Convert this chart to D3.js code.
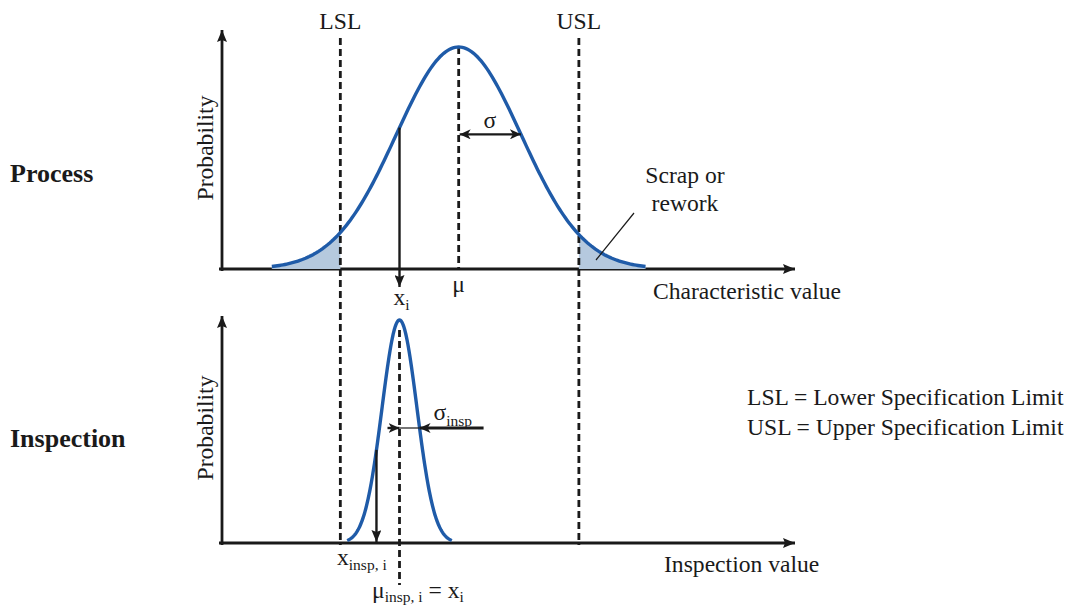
<!DOCTYPE html>
<html>
<head>
<meta charset="utf-8">
<script src="https://cdn.jsdelivr.net/npm/d3@7"></script>
<style>
  body { margin: 0; background: #fff; }
  text { font-family: "Liberation Serif", "Times New Roman", serif; fill: #1a1a1a; }
</style>
</head>
<body>
<svg id="chart"></svg>
<script>
// process and inspection parameters, in characteristic units
const processMean = 50, processSigma = 10;
const specLimits = [{name: "LSL", value: 31}, {name: "USL", value: 69.3}];
const xi = 40.5;          // true value of the inspected part
const inspSigma = 2.8;    // spread of the inspection
const xInsp = 36.8;       // value reported by the inspection
const xDomain = [12, 104];
const rowLabels = ["Process", "Inspection"];
const legendLines = ["LSL = Lower Specification Limit", "USL = Upper Specification Limit"];

const width = 1072, height = 605;
const blue = "#1f5ba8", fillBlue = "#b5c9de", ink = "#1a1a1a";
const fs = 23.6, fsSub = 15.5;

const svg = d3.select("#chart").attr("width", width).attr("height", height);

const x = d3.scaleLinear().domain(xDomain).range([222, 795]);
const yTop = d3.scaleLinear().domain([0, 1]).range([269, 47]);
const yBot = d3.scaleLinear().domain([0, 1]).range([543, 320]);

// bell curve scaled so the peak is 1
const bell = (v, m, s) => Math.exp(-0.5 * Math.pow((v - m) / s, 2));
const sample = (m, s, from, to) => d3.range(from, to + 1e-9, (to - from) / 200).map(v => ({v: v, p: bell(v, m, s)}));

// markers
var defs = svg.append("defs");
defs.append("marker").attr("id", "tri")
    .attr("markerUnits", "userSpaceOnUse")
    .attr("viewBox", "0 0 12 10").attr("refX", 12).attr("refY", 5)
    .attr("markerWidth", 12).attr("markerHeight", 10).attr("orient", "auto-start-reverse")
    .append("path").attr("d", "M0,0 L12,5 L0,10 L2,5 z").attr("fill", ink);
defs.append("marker").attr("id", "barb")
    .attr("markerUnits", "userSpaceOnUse")
    .attr("viewBox", "0 0 11 10").attr("refX", 11).attr("refY", 5)
    .attr("markerWidth", 11).attr("markerHeight", 10).attr("orient", "auto-start-reverse")
    .append("path").attr("d", "M0,0 L11,5 L0,10 L3,5 z").attr("fill", ink);

// ---- axes
const axisX0 = x.range()[0], axisX1 = x.range()[1];
[[yTop, 30], [yBot, 316]].forEach(function (d) {
    var y = d[0];
    svg.append("line").attr("x1", axisX0 - 3).attr("x2", axisX1).attr("y1", y(0)).attr("y2", y(0))
        .attr("stroke", ink).attr("stroke-width", 2.8).attr("marker-end", "url(#tri)");
    svg.append("line").attr("x1", axisX0).attr("x2", axisX0).attr("y1", y(0) + 2).attr("y2", d[1])
        .attr("stroke", ink).attr("stroke-width", 2.8).attr("marker-end", "url(#tri)");
});

// ---- process curve with shaded tails
const lo = processMean - 3 * processSigma, hi = processMean + 3 * processSigma;
const area = d3.area().x(d => x(d.v)).y0(yTop(0)).y1(d => yTop(d.p));
const line = d3.line().x(d => x(d.v)).y(d => yTop(d.p));
svg.append("path").datum(sample(processMean, processSigma, lo, specLimits[0].value))
    .attr("d", area).attr("fill", fillBlue);
svg.append("path").datum(sample(processMean, processSigma, specLimits[1].value, hi))
    .attr("d", area).attr("fill", fillBlue);

// ---- inspection curve
const lineBot = d3.line().x(d => x(d.v)).y(d => yBot(d.p));

// dashed spec limits through both panels
specLimits.forEach(function (s) {
    svg.append("line").attr("x1", x(s.value)).attr("x2", x(s.value)).attr("y1", 38).attr("y2", 545)
        .attr("stroke", ink).attr("stroke-width", 2.8).attr("stroke-dasharray", "7,4");
    svg.append("text").attr("x", x(s.value)).attr("y", 29).attr("text-anchor", "middle")
        .attr("font-size", fs).text(s.name);
});
// dashed means
svg.append("line").attr("x1", x(processMean)).attr("x2", x(processMean)).attr("y1", yTop(1)).attr("y2", yTop(0))
    .attr("stroke", ink).attr("stroke-width", 2.8).attr("stroke-dasharray", "7,4");
svg.append("line").attr("x1", x(xi)).attr("x2", x(xi)).attr("y1", yBot(1) + 10).attr("y2", 585)
    .attr("stroke", ink).attr("stroke-width", 2.8).attr("stroke-dasharray", "7,4");

svg.append("path").datum(sample(processMean, processSigma, lo, hi))
    .attr("d", line).attr("fill", "none").attr("stroke", blue).attr("stroke-width", 3.4);
svg.append("path").datum(sample(xi, inspSigma, xi - 3 * inspSigma, xi + 3 * inspSigma))
    .attr("d", lineBot).attr("fill", "none").attr("stroke", blue).attr("stroke-width", 3.4);

// x_i arrow from the process curve down past the axis
svg.append("line").attr("x1", x(xi)).attr("x2", x(xi))
    .attr("y1", yTop(bell(xi, processMean, processSigma))).attr("y2", yTop(0) + 18)
    .attr("stroke", ink).attr("stroke-width", 2.4).attr("marker-end", "url(#tri)");
// x_insp arrow down to the lower axis
svg.append("line").attr("x1", x(xInsp)).attr("x2", x(xInsp))
    .attr("y1", yBot(bell(xInsp, xi, inspSigma))).attr("y2", yBot(0) - 1)
    .attr("stroke", ink).attr("stroke-width", 2.4).attr("marker-end", "url(#tri)");

// sigma of the process
const ySig = yTop(bell(processMean + processSigma, processMean, processSigma));
svg.append("line").attr("x1", x(processMean) + 1).attr("x2", x(processMean + processSigma)).attr("y1", ySig).attr("y2", ySig)
    .attr("stroke", ink).attr("stroke-width", 2.4).attr("marker-start", "url(#barb)").attr("marker-end", "url(#barb)");
svg.append("text").attr("x", (x(processMean) + x(processMean + processSigma)) / 2).attr("y", ySig - 6)
    .attr("text-anchor", "middle").attr("font-size", fs).text("σ");

// sigma of the inspection (dimension arrows pointing inward)
const yIs = 428;
const pIs = yBot.invert(yIs);
const vIs = xi + inspSigma * Math.sqrt(-2 * Math.log(pIs));
svg.append("line").attr("x1", x(xi) - 12).attr("x2", x(xi)).attr("y1", yIs).attr("y2", yIs)
    .attr("stroke", ink).attr("stroke-width", 2.4).attr("marker-end", "url(#barb)");
svg.append("line").attr("x1", x(xi)).attr("x2", x(vIs)).attr("y1", yIs).attr("y2", yIs)
    .attr("stroke", ink).attr("stroke-width", 1.2);
svg.append("line").attr("x1", x(vIs) + 64).attr("x2", x(vIs)).attr("y1", yIs).attr("y2", yIs)
    .attr("stroke", ink).attr("stroke-width", 2.8).attr("marker-end", "url(#barb)");
var sIns = svg.append("text").attr("x", x(vIs) + 14).attr("y", 420).attr("font-size", fs);
sIns.append("tspan").text("σ");
sIns.append("tspan").attr("font-size", fsSub).attr("dy", 6).text("insp");

// scrap annotation
svg.append("line").attr("x1", 634).attr("y1", 213).attr("x2", 596).attr("y2", 260)
    .attr("stroke", ink).attr("stroke-width", 1.2);
svg.append("text").attr("x", 685).attr("y", 183).attr("text-anchor", "middle").attr("font-size", fs).text("Scrap or");
svg.append("text").attr("x", 685).attr("y", 211).attr("text-anchor", "middle").attr("font-size", fs).text("rework");

// value labels
svg.append("text").attr("x", x(processMean)).attr("y", 292).attr("text-anchor", "middle").attr("font-size", fs).text("μ");
var tXi = svg.append("text").attr("x", x(xi) - 6).attr("y", 305).attr("font-size", fs);
tXi.append("tspan").text("x");
tXi.append("tspan").attr("font-size", fsSub).attr("dy", 5).text("i");
var tXins = svg.append("text").attr("x", 337).attr("y", 565).attr("font-size", fs);
tXins.append("tspan").text("x");
tXins.append("tspan").attr("font-size", fsSub).attr("dy", 5).text("insp, i");
var tMu = svg.append("text").attr("x", 372).attr("y", 598).attr("font-size", fs);
tMu.append("tspan").text("μ");
tMu.append("tspan").attr("font-size", fsSub).attr("dy", 4).text("insp, i");
tMu.append("tspan").attr("dy", -4).text(" = x");
tMu.append("tspan").attr("font-size", fsSub).attr("dy", 4).text("i");

// axis titles
svg.append("text").attr("x", 653).attr("y", 299).attr("font-size", fs).text("Characteristic value");
svg.append("text").attr("x", 664).attr("y", 572).attr("font-size", fs).text("Inspection value");
[148, 428].forEach(function (cy) {
    svg.append("text").attr("transform", "translate(213," + cy + ") rotate(-90)")
        .attr("text-anchor", "middle").attr("font-size", fs).text("Probability");
});

// row labels
svg.append("text").attr("x", 10).attr("y", 182).attr("font-size", 26).attr("font-weight", "bold").text(rowLabels[0]);
svg.append("text").attr("x", 10).attr("y", 447).attr("font-size", 26).attr("font-weight", "bold").text(rowLabels[1]);

// legend
legendLines.forEach(function (t, i) {
    svg.append("text").attr("x", 747).attr("y", 405 + i * 30).attr("font-size", fs).text(t);
});
</script>
</body>
</html>
